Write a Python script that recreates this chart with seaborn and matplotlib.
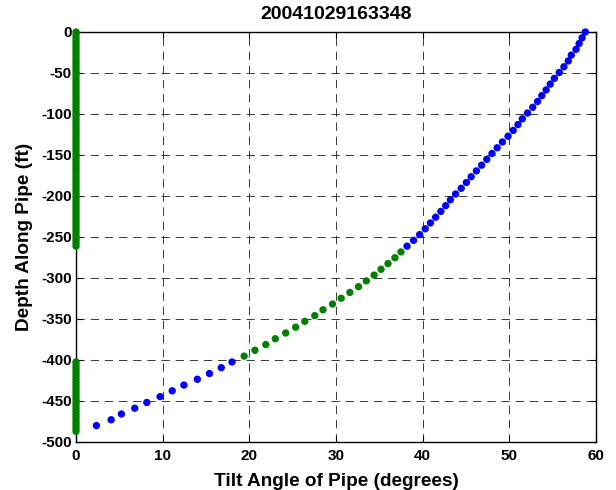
import pandas as pd
import seaborn as sns
import matplotlib
matplotlib.use("Agg")
import matplotlib.pyplot as plt

# ==========================================
# 1. data
# ==========================================
title = "20041029163348"

# pipe curve, bottom to top
curve_depth = [-480.0, -472.9, -465.9, -458.8, -451.8, -444.7, -437.6, -430.6, -423.5, -416.5,
               -409.4, -402.4, -395.3, -388.2, -381.2, -374.1, -367.1, -360.0, -352.9, -345.9,
               -338.8, -331.8, -324.7, -317.6, -310.6, -303.5, -296.5, -289.4, -282.4, -275.3,
               -268.2, -261.2, -254.1, -247.1, -240.0, -232.9, -225.9, -218.8, -211.8, -204.7,
               -197.6, -190.6, -183.5, -176.5, -169.4, -162.4, -155.3, -148.2, -141.2, -134.1,
               -127.1, -120.0, -112.9, -105.9, -98.8, -91.8, -84.7, -77.6, -70.6, -63.5,
               -56.5, -49.4, -42.4, -35.3, -28.2, -21.2, -14.1, -7.1, 0.0]
curve_tilt = [2.35, 4.05, 5.24, 6.78, 8.17, 9.7, 11.1, 12.45, 14.0, 15.4,
              16.76, 18.0, 19.4, 20.65, 21.9, 23.0, 24.2, 25.35, 26.4, 27.55,
              28.5, 29.6, 30.6, 31.6, 32.6, 33.5, 34.4, 35.2, 36.0, 36.8,
              37.5, 38.2, 38.95, 39.65, 40.3, 40.9, 41.5, 42.1, 42.66, 43.2,
              43.8, 44.45, 45.05, 45.6, 46.2, 46.8, 47.4, 48.0, 48.6, 49.2,
              49.85, 50.45, 51.0, 51.5, 52.1, 52.7, 53.26, 53.75, 54.25, 54.72,
              55.2, 55.76, 56.3, 56.8, 57.15, 57.7, 58.05, 58.4, 58.77]
curve_colour = ["blue"] * 12 + ["green"] * 19 + ["blue"] * 38

# green readings sitting at zero tilt
zero_depth = [0.0, -3.5, -7.1, -10.6, -14.1, -17.6, -21.2, -24.7, -28.2, -31.8,
              -35.3, -38.8, -42.4, -45.9, -49.4, -52.9, -56.5, -60.0, -63.5, -67.1,
              -70.6, -74.1, -77.6, -81.2, -84.7, -88.2, -91.8, -95.3, -98.8, -102.4,
              -105.9, -109.4, -112.9, -116.5, -120.0, -123.5, -127.1, -130.6, -134.1, -137.6,
              -141.2, -144.7, -148.2, -151.8, -155.3, -158.8, -162.4, -165.9, -169.4, -172.9,
              -176.5, -180.0, -183.5, -187.1, -190.6, -194.1, -197.6, -201.2, -204.7, -208.2,
              -211.8, -215.3, -218.8, -222.4, -225.9, -229.4, -232.9, -236.5, -240.0, -243.5,
              -247.1, -250.6, -254.1, -257.6, -261.2,
              -402.4, -405.9, -409.4, -412.9, -416.5, -420.0, -423.5, -427.1, -430.6, -434.1,
              -437.6, -441.2, -444.7, -448.2, -451.8, -455.3, -458.8, -462.4, -465.9, -469.4,
              -472.9, -476.5, -480.0, -483.5, -487.1]
zero_tilt = [0.0] * len(zero_depth)

x_ticks = [0, 10, 20, 30, 40, 50, 60]
y_ticks = [0, -50, -100, -150, -200, -250, -300, -350, -400, -450, -500]

df = pd.DataFrame({
    "tilt": curve_tilt + zero_tilt,
    "depth": curve_depth + zero_depth,
    "colour": curve_colour + ["green"] * len(zero_depth),
})

# ==========================================
# 2. style
# ==========================================
sns.set_style("ticks")
plt.rcParams["font.family"] = ["Liberation Sans", "DejaVu Sans"]
plt.rcParams["font.weight"] = "bold"
plt.rcParams["text.color"] = "black"
plt.rcParams["axes.labelcolor"] = "black"
plt.rcParams["axes.unicode_minus"] = False
plt.rcParams["xtick.direction"] = "in"
plt.rcParams["ytick.direction"] = "in"

fig = plt.figure(figsize=(6.16, 4.9), dpi=100)
ax = fig.add_axes([0.1234, 0.098, 0.8441, 0.8367])

sns.scatterplot(data=df, x="tilt", y="depth", hue="colour",
                palette={"blue": (0, 0, 1), "green": (0, 0.5, 0)},
                s=28, linewidth=0, legend=False, ax=ax, zorder=5, clip_on=False)

ax.set_xlim(0, 60)
ax.set_ylim(-500, 0)
ax.set_xticks(x_ticks)
ax.set_yticks(y_ticks)
ax.tick_params(axis="both", labelsize=11, length=4, width=0.8, pad=3,
               top=True, right=True, colors="black", labelcolor="black")
ax.tick_params(axis="x", pad=5)
for lab in ax.get_xticklabels() + ax.get_yticklabels():
    lab.set_fontweight("bold")
ax.grid(True, color="#1a1a1a", linewidth=0.6, linestyle=(0, (10, 7)))
for sp in ax.spines.values():
    sp.set_visible(True)
    sp.set_linewidth(1.0)
    sp.set_color("black")

ax.set_title(title, fontsize=14, fontweight="bold", pad=9, color="black")
ax.set_xlabel("Tilt Angle of Pipe (degrees)", fontsize=13.7, fontweight="bold", labelpad=7)
ax.set_ylabel("Depth Along Pipe (ft)", fontsize=13.7, fontweight="bold", labelpad=6)

fig.savefig("out.png", dpi=100)
